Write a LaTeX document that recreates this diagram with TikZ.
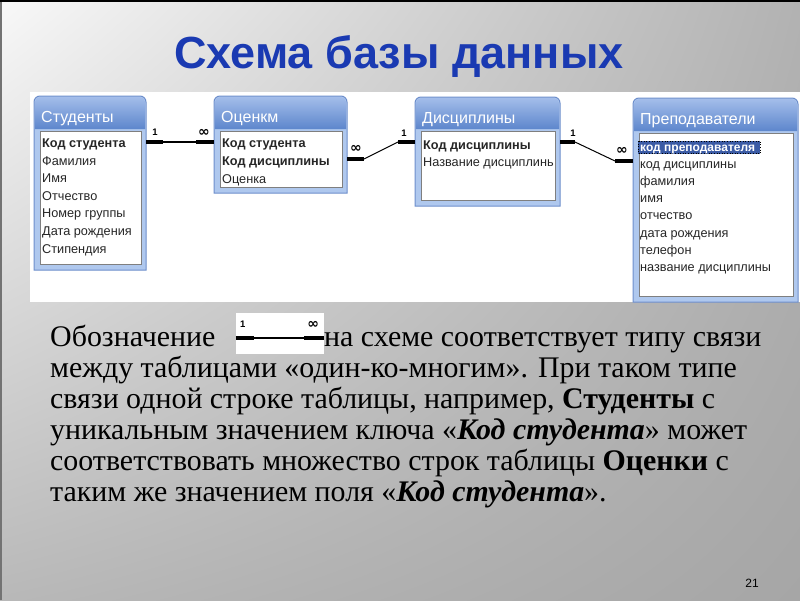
\documentclass[tikz,border=0pt]{standalone}
\usepackage{fontspec}
\setmainfont{Liberation Serif}
\newfontfamily\titlefont{Liberation Sans}
\newfontfamily\tabfont{Liberation Sans}
\newfontfamily\symfont{DejaVu Sans}
\usetikzlibrary{calc,shadings}
\definecolor{bgUL}{HTML}{F8F8F8}
\definecolor{bgUR}{HTML}{B2B2B2}
\definecolor{bgLL}{HTML}{B8B8B8}
\definecolor{bgLR}{HTML}{A6A6A6}
\definecolor{hdrtop}{HTML}{A3BDEA}
\definecolor{hdrbot}{HTML}{5D86CC}
\definecolor{framebg}{HTML}{AFC8EE}
\definecolor{frameedge}{HTML}{6E8FCC}
\definecolor{listedge}{HTML}{7F7F7F}
\definecolor{titleblue}{HTML}{1A3AB2}
\definecolor{selblue}{HTML}{3B5BA5}
\newcommand\dbtbl[7]{%
  \node[tblnode, minimum width={#4-#2}, minimum height={#5-#3}, anchor=north west] (#1) at (#2,#3) {};
  \filldraw[fill=framebg, draw=frameedge, line width=1] (#2,#5) [rounded corners=6] -- (#2,#3) -- (#4,#3) [sharp corners] -- (#4,#5) -- cycle;
  \shade[top color=hdrtop, bottom color=hdrbot] (#2+1,#7-2) [rounded corners=5] -- (#2+1,#3+1) -- (#4-1,#3+1) [sharp corners] -- (#4-1,#7-2) -- cycle;
  \filldraw[fill=white, draw=listedge, line width=1] (#2+6,#7) rectangle (#4-5,#5-6);
  \node[hdrtext] (#1-title) at (#2+7,#3+26) {#6};
}
\begin{document}
\begin{tikzpicture}[x=1pt,y=-1pt,
  tblnode/.style={rectangle, inner sep=0, outer sep=0},
  rowtext/.style={anchor=base west, inner sep=0, text=black!85, font=\tabfont\fontsize{12.7}{13}\selectfont},
  rowbold/.style={rowtext, font=\tabfont\bfseries\fontsize{12.7}{13}\selectfont},
  hdrtext/.style={anchor=base west, inner sep=0, text=white, font=\tabfont\fontsize{16}{16}\selectfont},
  onelbl/.style={inner sep=0, font=\tabfont\bfseries\fontsize{9.5}{9.5}\selectfont},
  manylbl/.style={inner sep=0, font=\symfont\bfseries\fontsize{14}{14}\selectfont},
  endthick/.style={line width=4},
  midthin/.style={line width=1},
  bodytext/.style={anchor=base west, inner sep=0, font=\fontsize{29.9}{30}\selectfont},
  titlestyle/.style={anchor=base, inner sep=0, font=\titlefont\bfseries\fontsize{45}{46}\selectfont},
]
\useasboundingbox (0,0) rectangle (800,600);
% background
\shade[upper left=bgUL, upper right=bgUR, lower left=bgLL, lower right=bgLR] (0,0) rectangle (800,600);
\fill[black!55] (0,0) rectangle (2,600);
\fill[black] (0,0) rectangle (800,1.5);
% title
\node[titlestyle, text=titleblue] (title) at (399,68) {Схема базы данных};
% screenshot area
\fill[white] (30,92) rectangle (800,302);
% tables
\dbtbl{stud}{34}{96}{146}{270}{Студенты}{131}
\dbtbl{ocen}{214}{96}{347}{193}{Оценкм}{131}
\dbtbl{disc}{415}{97}{560}{206}{Дисциплины}{131}
\dbtbl{prep}{633}{98}{798}{302}{Преподаватели}{133}
% rows (baselines)
\node[rowbold] (stud-1) at (42,147.5) {Код студента};
\foreach \t [count=\i from 2] in {Фамилия,Имя,Отчество,Номер группы,Дата рождения,Стипендия}
  \node[rowtext] (stud-\i) at (42,{147.5+17.6*(\i-1)}) {\t};
\node[rowbold] (ocen-1) at (222,147.5) {Код студента};
\node[rowbold] (ocen-2) at (222,165.5) {Код дисциплины};
\node[rowtext] (ocen-3) at (222,183.5) {Оценка};
\node[rowbold] (disc-1) at (423,149.5) {Код дисциплины};
\node[rowtext] (disc-2) at (423,166.5) {Название дисциплинь};
\fill[selblue] (638,141) rectangle (760,153.5);
\draw[black, dotted, line width=0.6] (638,141) rectangle (760,153.5);
\node[rowbold, text=white, font=\tabfont\bfseries\fontsize{12}{12}\selectfont] (prep-1) at (640,151.5) {код преподавателя};
\foreach \t [count=\i from 2] in {код дисциплины,фамилия,имя,отчество,дата рождения,телефон,название дисциплины}
  \node[rowtext] (prep-\i) at (640,{151.5+17.1*(\i-1)}) {\t};
% connector 1: Студенты - Оценкм
\coordinate (s1) at ([yshift=-46pt]stud.north east);
\coordinate (e1) at ([yshift=-46pt]ocen.north west);
\draw[endthick] (s1) -- ++(17,0) coordinate (s1b);
\draw[endthick] (e1) -- ++(-18,0) coordinate (e1b);
\draw[line width=2] (s1b) -- (e1b);
\node[onelbl] (l1a) at ([shift={(9,-10)}]s1) {1};
\node[manylbl] (l1b) at ([shift={(-10,-9)}]e1) {∞};
% connector 2: Оценкм - Дисциплины
\coordinate (s2) at ([yshift=-63pt]ocen.north east);
\coordinate (e2) at ([yshift=-45pt]disc.north west);
\draw[endthick] (s2) -- ++(17,0) coordinate (s2b);
\draw[endthick] (e2) -- ++(-17,0) coordinate (e2b);
\draw[midthin] (s2b) -- (e2b);
\node[manylbl] (l2a) at ([shift={(9,-10)}]s2) {∞};
\node[onelbl] (l2b) at ([shift={(-11,-9)}]e2) {1};
% connector 3: Дисциплины - Преподаватели
\coordinate (s3) at ([yshift=-45pt]disc.north east);
\coordinate (e3) at ([yshift=-63pt]prep.north west);
\draw[endthick] (s3) -- ++(15,0) coordinate (s3b);
\draw[endthick] (e3) -- ++(-18,0) coordinate (e3b);
\draw[midthin] (s3b) -- (e3b);
\node[onelbl] (l3a) at ([shift={(13,-9)}]s3) {1};
\node[manylbl] (l3b) at ([shift={(-11,-10)}]e3) {∞};
% body text
\node[bodytext] (b1a) at (50,346) {Обозначение};
\node[rectangle, fill=white, inner sep=0, minimum width=88, minimum height=41] (leg) at (280,333.5) {};
\coordinate (lga) at ([yshift=-4.5pt]leg.west);
\coordinate (lgb) at ([yshift=-4.5pt]leg.east);
\draw[endthick] (lga) -- ++(18,0) coordinate (lga2);
\draw[endthick] (lgb) -- ++(-20,0) coordinate (lgb2);
\draw[line width=1.5] (lga2) -- (lgb2);
\node[onelbl] (lgl1) at ([shift={(7,-14)}]lga) {1};
\node[manylbl] (lgl2) at ([shift={(-11,-13)}]lgb) {∞};
\node[bodytext] (b1b) at (324,346) {на схеме соответствует типу связи};
\node[bodytext] (b2) at (50,377) {между таблицами «один-ко-многим». При таком типе};
\node[bodytext] (b3) at (50,408) {связи одной строке таблицы, например, \textbf{Студенты} с};
\node[bodytext] (b4) at (50,439) {уникальным значением ключа «\textbf{\textit{Код студента}}» может};
\node[bodytext] (b5) at (50,470) {соответствовать множество строк таблицы \textbf{Оценки} с};
\node[bodytext] (b6) at (50,501) {таким же значением поля «\textbf{\textit{Код студента}}».};
% page number
\node[inner sep=0, font=\tabfont\fontsize{12}{12}\selectfont] (pg) at (752,583) {21};
\end{tikzpicture}
\end{document}
